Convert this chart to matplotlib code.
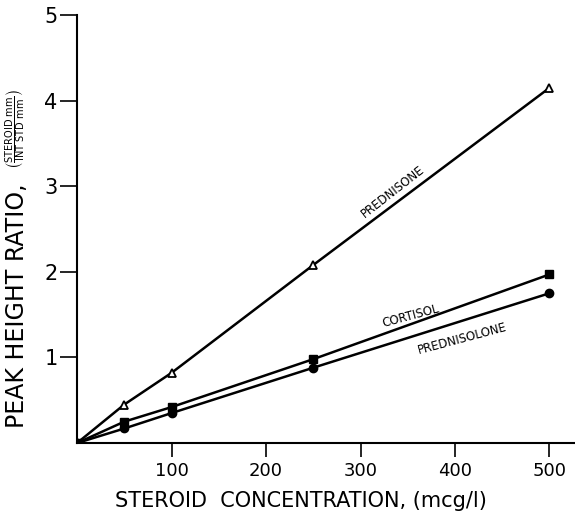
import matplotlib
matplotlib.use("Agg")
import matplotlib.pyplot as plt
import numpy as np

conc = [0, 50, 100, 250, 500]
prednisone = [0, 0.45, 0.82, 2.08, 4.15]
cortisol = [0, 0.25, 0.42, 0.98, 1.97]
prednisolone = [0, 0.17, 0.35, 0.88, 1.75]
xticks = [100, 200, 300, 400, 500]
yticks = [1, 2, 3, 4, 5]

plt.rcParams['font.family'] = ['DejaVu Sans']

fig = plt.figure(figsize=(5.75, 5.2), dpi=100)
fig.patch.set_facecolor('white')
ax = fig.add_axes([0.134, 0.148, 0.866, 0.823])

ax.plot(conc, prednisone, color='black', lw=1.8, marker='^', ms=6,
        mfc='white', mec='black', mew=1.3)
ax.plot(conc, cortisol, color='black', lw=1.8, marker='s', ms=6,
        mfc='black', mec='black')
ax.plot(conc, prednisolone, color='black', lw=1.8, marker='o', ms=6,
        mfc='black', mec='black')

ax.text(334, 2.94, 'PREDNISONE', rotation=38, fontsize=8.5, ha='center', va='center')
ax.text(353, 1.48, 'CORTISOL', rotation=15, fontsize=8.5, ha='center', va='center')
ax.text(408, 1.22, 'PREDNISOLONE', rotation=15, fontsize=8.5, ha='center', va='center')

ax.set_xlim(0, 527)
ax.set_ylim(0, 5)
ax.set_xticks(xticks)
ax.set_yticks(yticks)
ax.set_xticklabels([str(v) for v in xticks], fontsize=13)
ax.set_yticklabels([str(v) for v in yticks], fontsize=15)
ax.tick_params(axis='x', direction='out', length=10, width=1.2, pad=4)
ax.tick_params(axis='y', direction='out', length=12, width=1.2, pad=2)
for s in ['top', 'right']:
    ax.spines[s].set_visible(False)
for s in ['left', 'bottom']:
    ax.spines[s].set_linewidth(1.5)

ax.set_xlabel('STEROID  CONCENTRATION, (mcg/l)', fontsize=15, va='center')
ax.xaxis.set_label_coords(0.45, -0.135)
ax.set_ylabel('PEAK HEIGHT RATIO,', fontsize=17, va='center')
ax.yaxis.set_label_coords(-0.12, 0.32)
ax.text(-0.122, 0.735,
        r'$\left(\frac{\mathsf{STEROID\ mm}}{\mathsf{INT\ STD\ mm}}\right)$',
        transform=ax.transAxes, rotation=90, fontsize=10,
        ha='center', va='center')

fig.savefig('out.png', dpi=100)
